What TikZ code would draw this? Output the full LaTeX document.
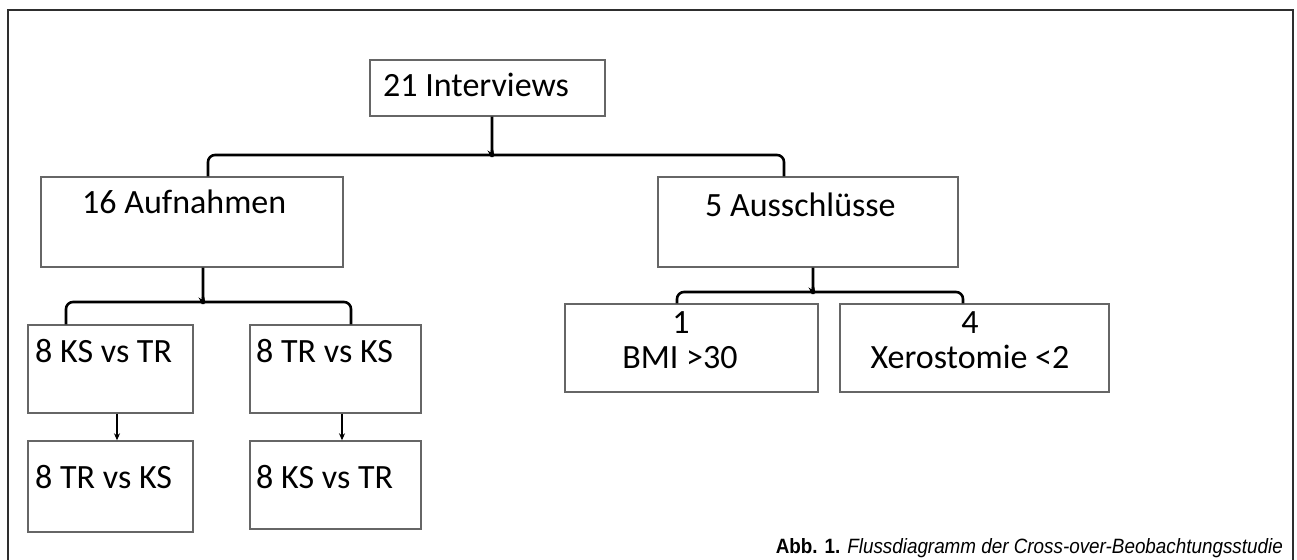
\documentclass[tikz,border=0pt]{standalone}
\usepackage{fontspec}
\usepackage{graphicx}
\setmainfont{Carlito}
\newfontfamily\capfont{Liberation Sans}
\usetikzlibrary{arrows.meta}
\definecolor{boxgray}{HTML}{666666}
\definecolor{framegray}{HTML}{2E2E2E}
\begin{document}
\begin{tikzpicture}[x=1pt,y=-1pt,
  box/.style={draw=boxgray, line width=1.4pt, rectangle, inner sep=0pt},
  txt/.style={font=\fontsize{34}{37}\selectfont, inner sep=0pt, text=black},
  conn/.style={draw=black, line width=2.6pt, rounded corners=7pt},
  arr/.style={draw=black, line width=1.7pt, -{Stealth[length=7pt,width=6pt]}},
]
\useasboundingbox (0,0) rectangle (1297,559);
\fill[white] (0,0) rectangle (1297,559);
\draw[line width=2.8pt, draw=framegray] (8,570) -- (8,10) -- (1293,10) -- (1293,570);

% boxes
\node[box, minimum width=235pt, minimum height=56pt] (int) at (487.5,88) {};
\node[box, minimum width=302pt, minimum height=90pt] (auf) at (192,222) {};
\node[box, minimum width=300pt, minimum height=90pt] (aus) at (808,222) {};
\node[box, minimum width=165pt, minimum height=88pt] (a1) at (110.5,369) {};
\node[box, minimum width=171pt, minimum height=88pt] (a2) at (335.5,369) {};
\node[box, minimum width=165pt, minimum height=91pt] (b1) at (110.5,486.5) {};
\node[box, minimum width=171pt, minimum height=88pt] (b2) at (335.5,485) {};
\node[box, minimum width=253pt, minimum height=88pt] (c1) at (691.5,348) {};
\node[box, minimum width=269pt, minimum height=88pt] (c2) at (974.5,348) {};

% texts
\node[txt, anchor=base west] (tint) at (383,97) {21 Interviews};
\node[txt, anchor=base west] (tauf) at (82,213) {16 Aufnahmen};
\node[txt, anchor=base west] (taus) at (705,216) {5 Ausschlüsse};
\node[txt, anchor=base west] (ta1) at (35,362) {8 KS vs TR};
\node[txt, anchor=base west] (ta2) at (256,362) {8 TR vs KS};
\node[txt, anchor=base west] (tb1) at (35,488) {8 TR vs KS};
\node[txt, anchor=base west] (tb2) at (256,488) {8 KS vs TR};
\node[txt, anchor=base] (tc1a) at (681,333) {1};
\node[txt, anchor=base] (tc1b) at (680,368) {BMI >30};
\node[txt, anchor=base] (tc2a) at (970,333) {4};
\node[txt, anchor=base] (tc2b) at (970,368) {Xerostomie <2};

% connectors
\coordinate (j1) at (492,155);
\draw[conn] ([xshift=16pt]auf.north) |- ([xshift=-5pt]j1) to[out=0,in=-90] ([yshift=5pt]j1) -- ([xshift=4.5pt]int.south);
\draw[conn] ([xshift=-24pt]aus.north) |- ([xshift=5pt]j1) to[out=180,in=-90] ([yshift=5pt]j1);

\coordinate (j2) at (203,302);
\draw[conn] ([xshift=-44.5pt]a1.north) |- ([xshift=-5pt]j2) to[out=0,in=-90] ([yshift=5pt]j2) -- ([xshift=11pt]auf.south);
\draw[conn] ([xshift=15.5pt]a2.north) |- ([xshift=5pt]j2) to[out=180,in=-90] ([yshift=5pt]j2);

\coordinate (j3) at (813,292);
\draw[conn] ([xshift=-14.5pt]c1.north) |- ([xshift=-5pt]j3) to[out=0,in=-90] ([yshift=5pt]j3) -- ([xshift=5pt]aus.south);
\draw[conn] ([xshift=-11.5pt]c2.north) |- ([xshift=5pt]j3) to[out=180,in=-90] ([yshift=5pt]j3);

\draw[arr] ([xshift=6.5pt]a1.south) -- ([xshift=6.5pt]b1.north);
\draw[arr] ([xshift=6.5pt]a2.south) -- ([xshift=6.5pt]b2.north);

% caption
\node[anchor=base east, inner sep=0pt] (cap) at (1283,553) {\resizebox{507pt}{15pt}{\capfont\textbf{Abb. 1.} \textit{Flussdiagramm der Cross-over-Beobachtungsstudie}}};
\end{tikzpicture}
\end{document}
